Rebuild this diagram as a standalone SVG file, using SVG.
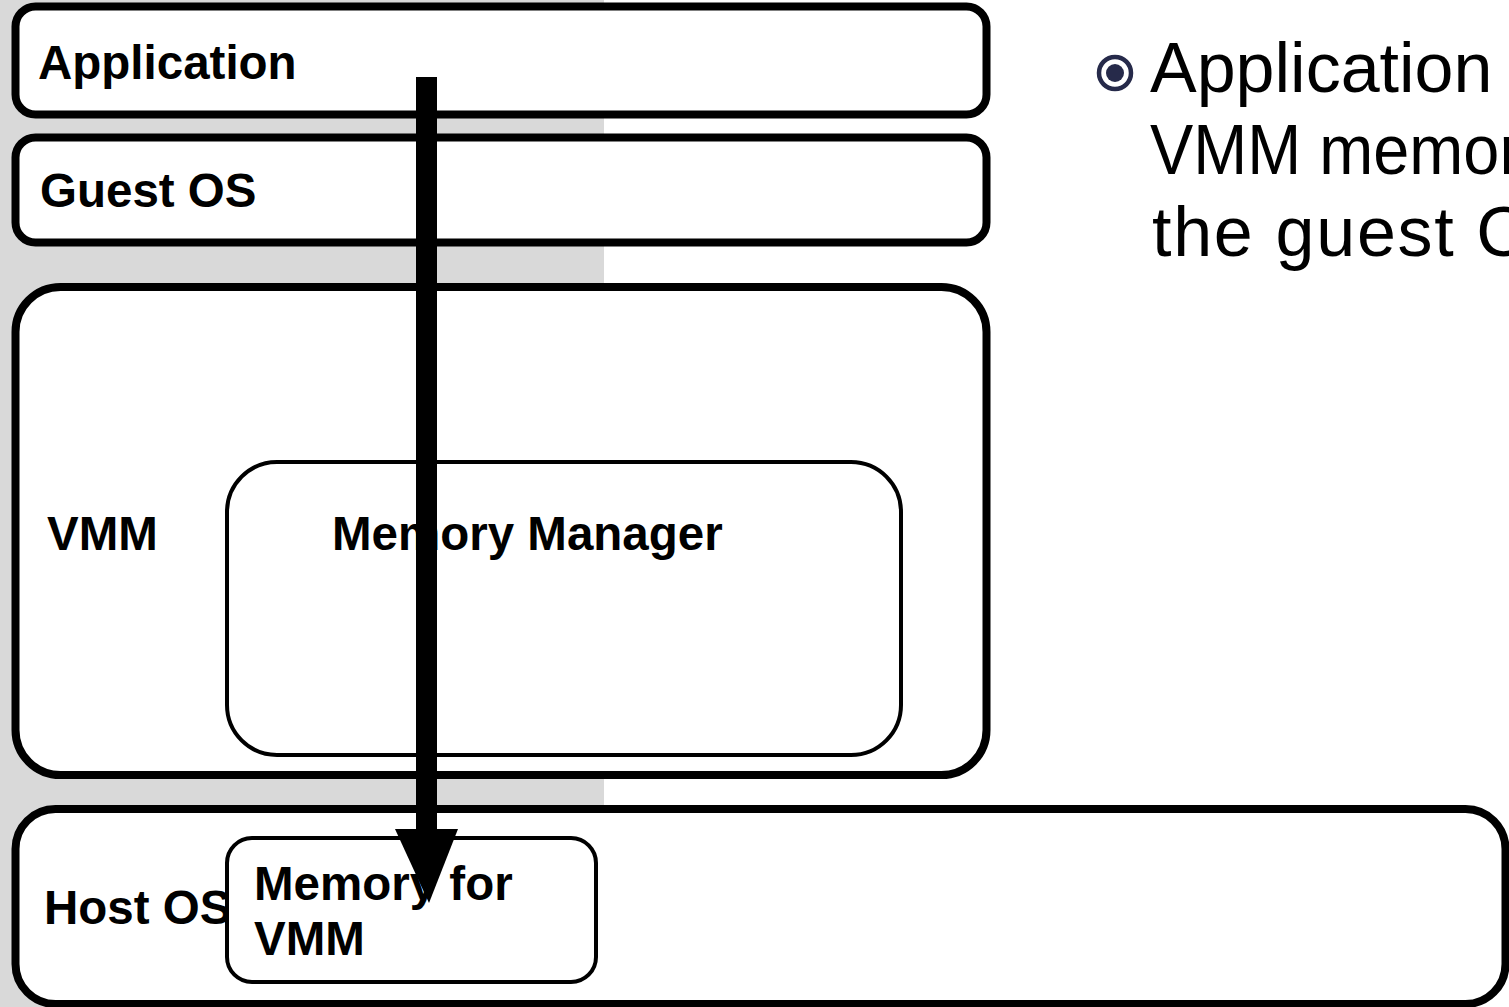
<svg xmlns="http://www.w3.org/2000/svg" width="1509" height="1007" viewBox="0 0 1509 1007">
  <style>
    .box { fill: #ffffff; stroke: #000000; stroke-width: 8; }
    .inner { fill: #ffffff; stroke: #000000; stroke-width: 4; }
    .lbl { font-family: "Liberation Sans", Arial, sans-serif; font-weight: bold; font-size: 47.5px; fill: #000000; }
    .note { font-family: "Liberation Sans", Arial, sans-serif; font-size: 70px; fill: #000000; }
  </style>

  <!-- backdrop -->
  <rect x="0" y="0" width="1509" height="1007" fill="#ffffff"/>
  <rect x="0" y="0" width="604" height="1007" fill="#d9d9d9"/>

  <g id="application">
    <rect class="box" x="15.5" y="6.5" width="971" height="108" rx="20"/>
    <text class="lbl" x="38" y="79">Application</text>
  </g>

  <g id="guest-os">
    <rect class="box" x="15.5" y="137.5" width="971" height="105" rx="20"/>
    <text class="lbl" x="40" y="207">Guest OS</text>
  </g>

  <g id="vmm">
    <rect class="box" x="15.5" y="287" width="971" height="488" rx="45"/>
    <text class="lbl" x="47" y="550">VMM</text>
  </g>

  <g id="memory-manager">
    <rect class="inner" x="227" y="462" width="674" height="293" rx="50"/>
    <text class="lbl" x="332" y="550">Memory Manager</text>
  </g>

  <g id="host-os">
    <rect class="box" x="15.5" y="809" width="1490" height="195" rx="40"/>
    <text class="lbl" x="44" y="924">Host OS</text>
  </g>

  <g id="memory-for-vmm">
    <rect class="inner" x="227" y="838" width="369" height="144" rx="25"/>
    <text class="lbl" x="254" y="900">Memory for</text>
    <text class="lbl" x="254" y="955">VMM</text>
  </g>

  <g id="connectors">
    <rect x="416" y="77" width="21" height="755" fill="#000000"/>
    <polygon points="395,829 458,829 429,903" fill="#000000"/>
  </g>

  <g id="notes">
    <circle cx="1115" cy="73" r="16" fill="none" stroke="#262a4a" stroke-width="4.5"/>
    <circle cx="1115" cy="73" r="9" fill="#262a4a"/>
    <text class="note" x="1150" y="92">Application</text>
    <text class="note" x="1150" y="174" textLength="371" lengthAdjust="spacingAndGlyphs">VMM memor</text>
    <text class="note" x="1152" y="256" textLength="379" lengthAdjust="spacing">the guest O</text>
  </g>
</svg>
